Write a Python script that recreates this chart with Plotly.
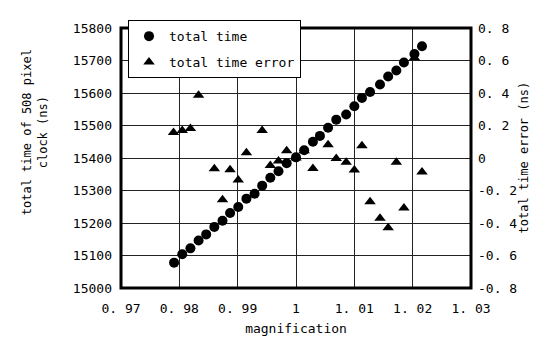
import plotly.graph_objects as go

# total time (left axis)
mag_time = [0.9791, 0.9805, 0.9819, 0.9833, 0.9846, 0.9860, 0.9874, 0.9887, 0.9901, 0.9915,
            0.9929, 0.9942, 0.9956, 0.9970, 0.9984, 1.0000, 1.0014, 1.0029, 1.0041, 1.0055,
            1.0069, 1.0086, 1.0100, 1.0113, 1.0127, 1.0144, 1.0158, 1.0172, 1.0185, 1.0203, 1.0216]
total_time = [15078, 15104, 15122, 15146, 15165, 15188, 15207, 15231, 15249, 15275,
              15290, 15315, 15339, 15359, 15384, 15402, 15424, 15450, 15468, 15493,
              15518, 15534, 15559, 15585, 15603, 15626, 15651, 15669, 15694, 15720, 15744]

# total time error (right axis)
mag_err = [0.9790, 0.9805, 0.9819, 0.9833, 0.9860, 0.9874, 0.9887, 0.9901, 0.9915, 0.9942,
           0.9956, 0.9970, 0.9984, 1.0000, 1.0014, 1.0029, 1.0055, 1.0069, 1.0086, 1.0100,
           1.0113, 1.0127, 1.0144, 1.0158, 1.0172, 1.0185, 1.0203, 1.0216]
time_err = [0.157, 0.169, 0.181, 0.386, -0.066, -0.257, -0.073, -0.135, 0.032, 0.169,
            -0.046, -0.019, 0.044, 0.0, 0.045, -0.065, 0.082, -0.003, -0.026, -0.074,
            0.076, -0.269, -0.370, -0.429, -0.026, -0.307, 0.617, -0.086]

x_ticks = [0.97, 0.98, 0.99, 1.00, 1.01, 1.02, 1.03]
x_ticktext = ["0. 97", "0. 98", "0. 99", "1", "1. 01", "1. 02", "1. 03"]
y_ticks = [15000, 15100, 15200, 15300, 15400, 15500, 15600, 15700, 15800]
y_ticktext = ["15000", "15100", "15200", "15300", "15400", "15500", "15600", "15700", "15800"]
y2_ticks = [-0.8, -0.6, -0.4, -0.2, 0, 0.2, 0.4, 0.6, 0.8]
y2_ticktext = ["-0. 8", "-0. 6", "-0. 4", "-0. 2", "0", "0. 2", "0. 4", "0. 6", "0. 8"]

FONT = "DejaVu Sans Mono"

fig = go.Figure()
fig.add_trace(go.Scatter(
    x=mag_err, y=time_err, mode="markers", name="total time error",
    marker=dict(symbol="triangle-up", size=10, color="black"),
    yaxis="y", legendrank=2, legendgroup="b"))
fig.add_trace(go.Scatter(
    x=mag_time, y=total_time, mode="markers", name="total time",
    marker=dict(symbol="circle", size=10, color="black"),
    yaxis="y2", legendrank=1, legendgroup="a"))

fig.update_layout(
    width=539, height=342,
    margin=dict(l=113, r=76, t=17, b=62),
    paper_bgcolor="white", plot_bgcolor="white",
    font=dict(family=FONT, size=13, color="black"),
    showlegend=True,
    legend=dict(x=0.02, y=1.03, xanchor="left", yanchor="top",
                bgcolor="white", bordercolor="black", borderwidth=1,
                font=dict(family=FONT, size=13), tracegroupgap=6,
                itemwidth=30),
    xaxis=dict(range=[0.97, 1.03], tickvals=x_ticks, ticktext=x_ticktext,
               showgrid=True, gridcolor="#222", gridwidth=1, zeroline=False,
               ticks="", ticklabelstandoff=11,
               title=dict(text="magnification", font=dict(size=13), standoff=8)),
    yaxis=dict(range=[-0.8, 0.8], tickvals=y2_ticks, ticktext=y2_ticktext,
               side="right", showgrid=True, gridcolor="#222", gridwidth=1,
               zeroline=False, ticks="", ticklabelstandoff=6),
    yaxis2=dict(range=[15000, 15800], tickvals=y_ticks, ticktext=y_ticktext,
                overlaying="y", side="left", showgrid=False, zeroline=False,
                ticks="", ticklabelstandoff=8),
    shapes=[dict(type="rect", xref="paper", yref="paper", x0=0, y0=0, x1=1, y1=1,
                 line=dict(color="black", width=3), layer="above")],
    annotations=[
        dict(text="total time of 508 pixel<br>clock (ns)", xref="paper", yref="paper",
             x=-0.245, y=0.6, textangle=-90, showarrow=False,
             font=dict(family=FONT, size=12), xanchor="center", yanchor="middle"),
        dict(text="total time error (ns)", xref="paper", yref="paper",
             x=1.15, y=0.5, textangle=-90, showarrow=False,
             font=dict(family=FONT, size=12), xanchor="center", yanchor="middle"),
    ],
)

fig.write_html("out.html")
